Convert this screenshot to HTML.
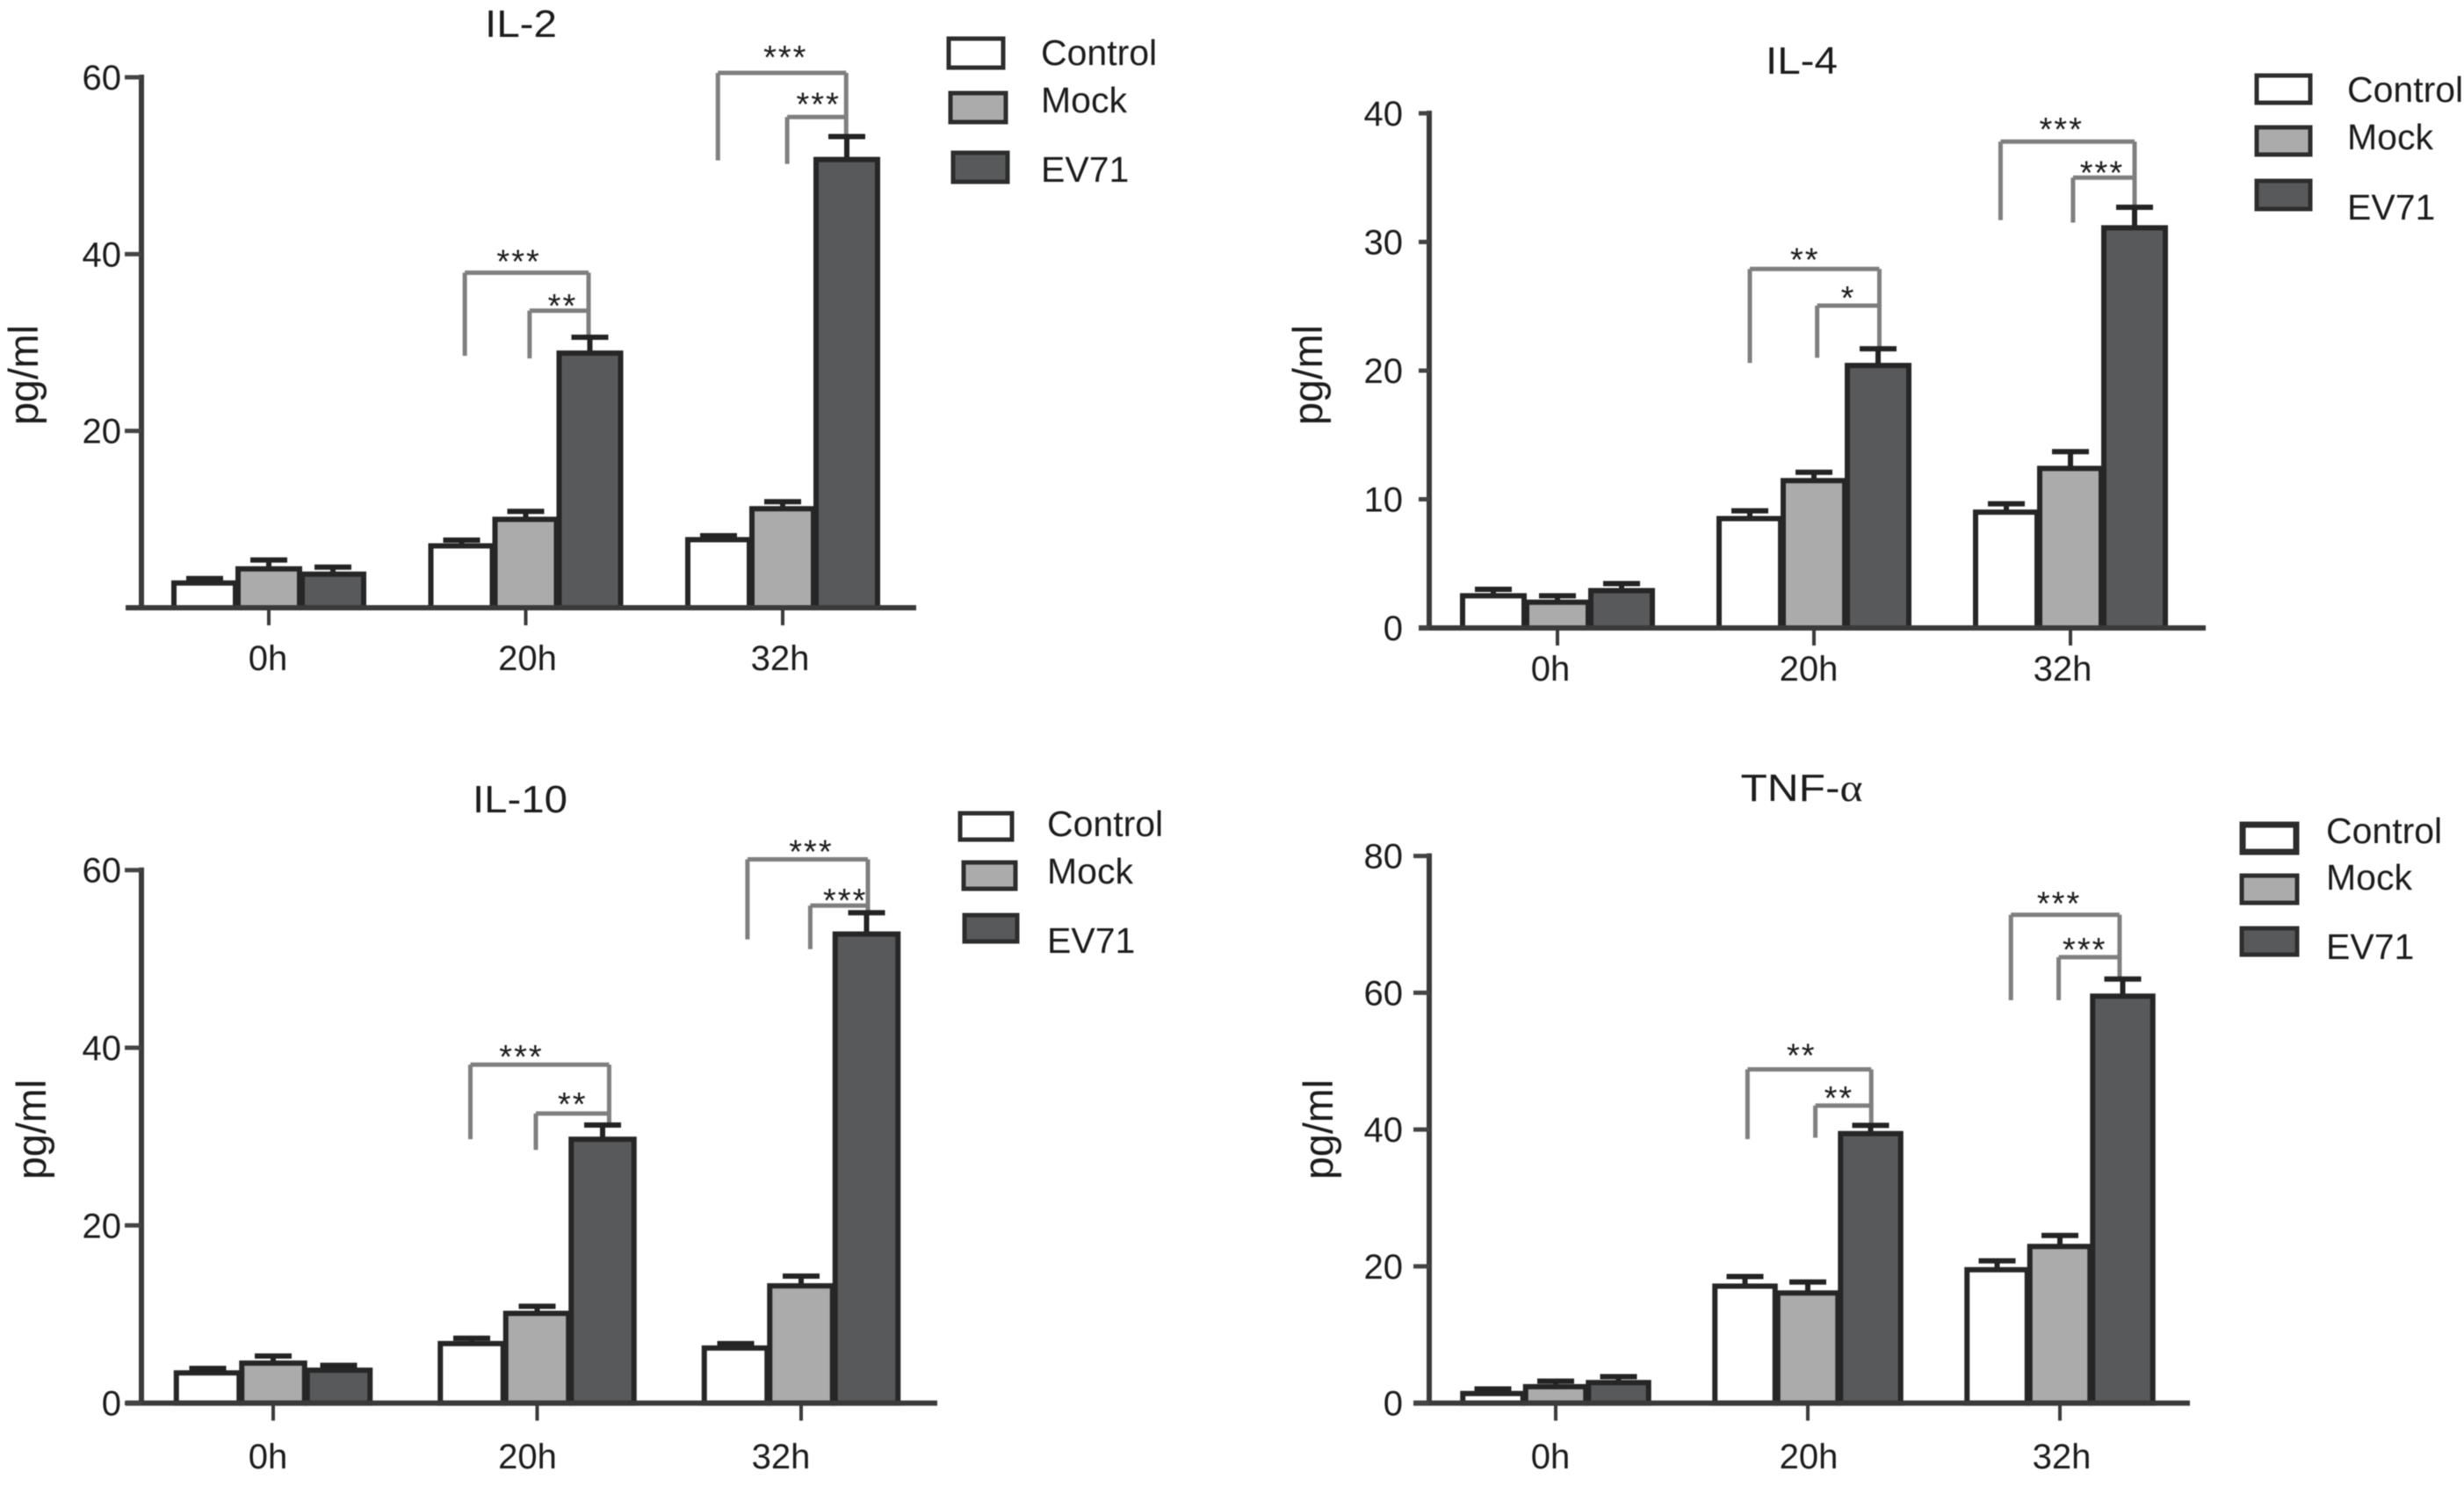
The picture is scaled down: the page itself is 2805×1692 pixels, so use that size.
<!DOCTYPE html>
<html lang="en">
<head>
<meta charset="utf-8">
<title>Cytokine levels after EV71 infection</title>
<style>
html,body{margin:0;padding:0;background:#fff;}
svg{display:block;font-family:"Liberation Sans",sans-serif;filter:blur(0.6px);}
.title{font-size:44px;fill:#1c1c1c;text-anchor:middle;}
.leg{font-size:41px;fill:#1c1c1c;}
.yt{font-size:47px;fill:#1c1c1c;}
.box{stroke:#2d2d2d;stroke-width:5;}
</style>
</head>
<body>
<svg id="fig" xmlns="http://www.w3.org/2000/svg" width="2805" height="1692" viewBox="0 0 2805 1692">
<rect width="2805" height="1692" fill="#fff"/>

<text class="title" x="593" y="42" textLength="82" lengthAdjust="spacingAndGlyphs">IL-2</text>
<text class="title" x="2051" y="84" textLength="82" lengthAdjust="spacingAndGlyphs">IL-4</text>
<text class="title" x="592" y="925" textLength="108" lengthAdjust="spacingAndGlyphs">IL-10</text>
<text class="title" x="2051" y="912" textLength="139" lengthAdjust="spacingAndGlyphs">TNF-<tspan font-family="Liberation Serif, serif">α</tspan></text>

<text class="yt" transform="translate(43,484) rotate(-90)" textLength="114" lengthAdjust="spacingAndGlyphs">pg/ml</text>
<text class="yt" transform="translate(1505,484) rotate(-90)" textLength="114" lengthAdjust="spacingAndGlyphs">pg/ml</text>
<text class="yt" transform="translate(52,1343) rotate(-90)" textLength="114" lengthAdjust="spacingAndGlyphs">pg/ml</text>
<text class="yt" transform="translate(1517,1343) rotate(-90)" textLength="114" lengthAdjust="spacingAndGlyphs">pg/ml</text>

<g>
<rect class="box" x="1080" y="44" width="62" height="33" fill="#fff"/>
<rect class="box" x="1082" y="106" width="63" height="33" fill="#ababab"/>
<rect class="box" x="1085" y="174" width="62" height="33" fill="#58595b"/>
<text class="leg" x="1185" y="74">Control</text>
<text class="leg" x="1185" y="128">Mock</text>
<text class="leg" x="1185" y="207">EV71</text>
</g>
<g>
<rect class="box" x="2569" y="86" width="61" height="31" fill="#fff"/>
<rect class="box" x="2569" y="145" width="61" height="31" fill="#ababab"/>
<rect class="box" x="2569" y="206" width="61" height="32" fill="#58595b"/>
<text class="leg" x="2672" y="116">Control</text>
<text class="leg" x="2672" y="170">Mock</text>
<text class="leg" x="2672" y="250">EV71</text>
</g>
<g>
<rect class="box" x="1093" y="926" width="59" height="30" fill="#fff"/>
<rect class="box" x="1097" y="982" width="59" height="30" fill="#ababab"/>
<rect class="box" x="1098" y="1042" width="60" height="30" fill="#58595b"/>
<text class="leg" x="1192" y="952">Control</text>
<text class="leg" x="1192" y="1006">Mock</text>
<text class="leg" x="1192" y="1085">EV71</text>
</g>
<g>
<rect class="box" x="2553" y="939" width="61" height="31" fill="#fff" style="stroke-width:7"/>
<rect class="box" x="2552" y="997" width="63" height="31" fill="#ababab"/>
<rect class="box" x="2552" y="1057" width="63" height="30" fill="#58595b"/>
<text class="leg" x="2648" y="960">Control</text>
<text class="leg" x="2648" y="1013">Mock</text>
<text class="leg" x="2648" y="1092">EV71</text>
</g>
</svg>

<script>
// Shared categories
const categories = ['0h', '20h', '32h'];
const seriesNames = ['control', 'mock', 'ev71'];

// IL-2 values (pg/ml) and error-bar tops
const il2Control = [2.8, 7.0, 7.7];
const il2Mock = [4.4, 10.0, 11.2];
const il2Ev71 = [3.8, 28.8, 50.7];
const il2ControlErr = [3.3, 7.65, 8.15];
const il2MockErr = [5.4, 10.9, 12];
const il2Ev71Err = [4.6, 30.6, 53.3];
const il2Ticks = [20, 40, 60];
const il2OuterTop = [37.9, 60.5];
const il2OuterFoot = [28.5, 50.6];
const il2InnerTop = [33.6, 55.5];
const il2InnerFoot = [28.2, 50.2];
const il2RightFoot = [30.8, 53.5];
const il2OuterStars = ['***', '***'];
const il2InnerStars = ['**', '***'];

// IL-4
const il4Control = [2.5, 8.5, 9.0];
const il4Mock = [2.0, 11.45, 12.4];
const il4Ev71 = [2.9, 20.4, 31.1];
const il4ControlErr = [3.0, 9.1, 9.65];
const il4MockErr = [2.5, 12.1, 13.7];
const il4Ev71Err = [3.45, 21.7, 32.7];
const il4Ticks = [0, 10, 20, 30, 40];
const il4OuterTop = [27.9, 37.8];
const il4OuterFoot = [20.6, 31.7];
const il4InnerTop = [25.05, 35];
const il4InnerFoot = [21, 31.5];
const il4RightFoot = [21.7, 32.7];
const il4OuterStars = ['**', '***'];
const il4InnerStars = ['*', '***'];

// IL-10
const il10Control = [3.4, 6.7, 6.2];
const il10Mock = [4.5, 10.1, 13.2];
const il10Ev71 = [3.7, 29.7, 52.8];
const il10ControlErr = [3.9, 7.3, 6.7];
const il10MockErr = [5.3, 10.9, 14.3];
const il10Ev71Err = [4.25, 31.3, 55.2];
const il10Ticks = [0, 20, 40, 60];
const il10OuterTop = [38.1, 61.2];
const il10OuterFoot = [29.7, 52.2];
const il10InnerTop = [32.6, 56];
const il10InnerFoot = [28.5, 51.1];
const il10RightFoot = [31.3, 55.2];
const il10OuterStars = ['***', '***'];
const il10InnerStars = ['**', '***'];

// TNF-alpha
const tnfControl = [1.4, 17.1, 19.5];
const tnfMock = [2.4, 16.1, 22.9];
const tnfEv71 = [3.0, 39.4, 59.5];
const tnfControlErr = [2.07, 18.5, 20.8];
const tnfMockErr = [3.2, 17.7, 24.5];
const tnfEv71Err = [3.86, 40.6, 62];
const tnfTicks = [0, 20, 40, 60, 80];
const tnfOuterTop = [48.8, 71.4];
const tnfOuterFoot = [38.6, 58.9];
const tnfInnerTop = [43.5, 65.2];
const tnfInnerFoot = [38.8, 58.9];
const tnfRightFoot = [40.6, 62];
const tnfOuterStars = ['**', '***'];
const tnfInnerStars = ['**', '***'];

const fills = ['#ffffff', '#ababab', '#58595b'];
const svg = document.getElementById('fig');
const NS = 'http://www.w3.org/2000/svg';

function line(parent, x1, y1, x2, y2, color, w) {
  const el = document.createElementNS(NS, 'line');
  el.setAttribute('x1', x1);
  el.setAttribute('y1', y1);
  el.setAttribute('x2', x2);
  el.setAttribute('y2', y2);
  el.setAttribute('stroke', color);
  el.setAttribute('stroke-width', w);
  parent.appendChild(el);
  return el;
}
function label(parent, x, y, txt, anchor, size) {
  const el = document.createElementNS(NS, 'text');
  el.setAttribute('x', x);
  el.setAttribute('y', y);
  el.setAttribute('text-anchor', anchor);
  el.setAttribute('font-size', size);
  el.setAttribute('fill', '#1c1c1c');
  el.textContent = txt;
  parent.appendChild(el);
  return el;
}

function drawPanel(p) {
  const yScale = v => p.y0 - v * (p.y0 - p.yTop) / p.yMax;
  const xScale = i => p.g0 + i * p.step;
  const g = document.createElementNS(NS, 'g');
  
  
  svg.appendChild(g);

  // significance brackets
  [1, 2].forEach((gi, k) => {
    const cx = xScale(gi);
    const xo = cx + p.off[k][0] * p.bw;
    const xi = cx + p.off[k][1] * p.bw;
    const xr = cx + p.off[k][2] * p.bw;
    const co = '#7f7f7f';
    const topO = yScale(p.outerTop[k]);
    const topI = yScale(p.innerTop[k]);
    const sh = p.starShift[k];
    let el;
    el = line(g, xo, topO, xr, topO, co, 5);
    
    
    el = line(g, xo, topO, xo, yScale(p.outerFoot[k]), co, 5);
    
    
    el = line(g, xi, topI, xr, topI, co, 5);
    
    
    el = line(g, xi, topI, xi, yScale(p.innerFoot[k]), co, 5);
    
    
    el = line(g, xr, topO, xr, yScale(p.rightFoot[k]), co, 5);
    
    
    el = label(g, (xo + xr) / 2 + sh[0], topO + 4 + sh[1], p.outerStars[k], 'middle', 38);
    el.setAttribute('letter-spacing', '2');
    
    
    el = label(g, (xi + xr) / 2 + sh[2], topI + 9 + sh[3], p.innerStars[k], 'middle', 38);
    el.setAttribute('letter-spacing', '2');
    
    
  });

  // bars and error bars
  p.series.forEach((vals, s) => {
    vals.forEach((v, i) => {
      const cx = xScale(i) + (s - 1) * p.bw;
      const yv = yScale(v);
      const ye = yScale(p.errs[s][i]);
      let el;
      el = line(g, cx, yv, cx, ye, '#232323', 6);
      
      
      el = line(g, cx - 21, ye, cx + 21, ye, '#232323', 6);
      
      
      const r = document.createElementNS(NS, 'rect');
      r.setAttribute('x', cx - p.bw / 2 + 1.5);
      r.setAttribute('y', yv);
      r.setAttribute('width', p.bw - 3);
      r.setAttribute('height', Math.max(0, p.y0 - yv));
      r.setAttribute('fill', fills[s]);
      r.setAttribute('stroke', '#262626');
      r.setAttribute('stroke-width', 6);
      
      
      g.appendChild(r);
    });
  });

  // axes
  let ax;
  ax = line(g, p.ax, p.yTop - 3, p.ax, p.y0, '#3a3a3a', 6);
  
  
  ax = line(g, p.xStart, p.y0, p.xEnd, p.y0, '#3a3a3a', 6);
  
  

  p.ticks.forEach(t => {
    const y = yScale(t);
    let el;
    el = line(g, p.ax - p.tickLen, y, p.ax, y, '#444444', 5);
    
    
    el = label(g, p.ax - p.labelGap, y + 14, t, 'end', 40);
    
    
  });
  categories.forEach((c, i) => {
    const x = xScale(i);
    let el;
    el = line(g, x, p.y0, x, p.y0 + 20, '#3a3a3a', 4);
    
    
    el = label(g, x + p.labelDx[i], p.xLabelY, c, 'middle', 40);
    
    
  });
}

drawPanel({
  id: 'il2', series: [il2Control, il2Mock, il2Ev71], errs: [il2ControlErr, il2MockErr, il2Ev71Err],
  ticks: il2Ticks, outerTop: il2OuterTop, outerFoot: il2OuterFoot, innerTop: il2InnerTop,
  innerFoot: il2InnerFoot, rightFoot: il2RightFoot, outerStars: il2OuterStars, innerStars: il2InnerStars,
  yMax: 60, y0: 692, yTop: 88, g0: 306, step: 292.5, bw: 73, ax: 161, xStart: 143, xEnd: 1043,
  tickLen: 19, labelGap: 23, xLabelY: 763, labelDx: [-1, 2, -3],
  off: [[-0.95, 0.06, 0.98], [-1.01, 0.07, 0.99]],
  starShift: [[-9, -4, 4, -2], [4, -9, 2, -11]]
});
drawPanel({
  id: 'il4', series: [il4Control, il4Mock, il4Ev71], errs: [il4ControlErr, il4MockErr, il4Ev71Err],
  ticks: il4Ticks, outerTop: il4OuterTop, outerFoot: il4OuterFoot, innerTop: il4InnerTop,
  innerFoot: il4InnerFoot, rightFoot: il4RightFoot, outerStars: il4OuterStars, innerStars: il4InnerStars,
  yMax: 40, y0: 715, yTop: 129, g0: 1773, step: 292, bw: 73, ax: 1627, xStart: 1615, xEnd: 2511,
  tickLen: 12, labelGap: 30, xLabelY: 775, labelDx: [-8, -6, -9],
  off: [[-1, 0.05, 1.02], [-1.09, 0.04, 1]],
  starShift: [[-11, -2, 0, -5], [-7, -5, -2, -2]]
});
drawPanel({
  id: 'il10', series: [il10Control, il10Mock, il10Ev71], errs: [il10ControlErr, il10MockErr, il10Ev71Err],
  ticks: il10Ticks, outerTop: il10OuterTop, outerFoot: il10OuterFoot, innerTop: il10InnerTop,
  innerFoot: il10InnerFoot, rightFoot: il10RightFoot, outerStars: il10OuterStars, innerStars: il10InnerStars,
  yMax: 60, y0: 1597.6, yTop: 990.7, g0: 311, step: 300.5, bw: 74.5, ax: 161, xStart: 143, xEnd: 1067,
  tickLen: 19, labelGap: 23, xLabelY: 1672, labelDx: [-6, -11, -23],
  off: [[-1.02, -0.02, 1.1], [-0.82, 0.14, 1.02]],
  starShift: [[-21, 0, 0, -7], [4, 0, 7, -2]]
});
drawPanel({
  id: 'tnf', series: [tnfControl, tnfMock, tnfEv71], errs: [tnfControlErr, tnfMockErr, tnfEv71Err],
  ticks: tnfTicks, outerTop: tnfOuterTop, outerFoot: tnfOuterFoot, innerTop: tnfInnerTop,
  innerFoot: tnfInnerFoot, rightFoot: tnfRightFoot, outerStars: tnfOuterStars, innerStars: tnfInnerStars,
  yMax: 80, y0: 1597.6, yTop: 974.6, g0: 1771, step: 287, bw: 71.5, ax: 1627, xStart: 1609, xEnd: 2493,
  tickLen: 18, labelGap: 30, xLabelY: 1672, labelDx: [-6, 1, 2],
  off: [[-0.96, 0.12, 1.01], [-0.78, -0.02, 0.95]],
  starShift: [[-9, -7, -5, -5], [-7, -4, -5, -5]]
});
</script>
</body>
</html>
